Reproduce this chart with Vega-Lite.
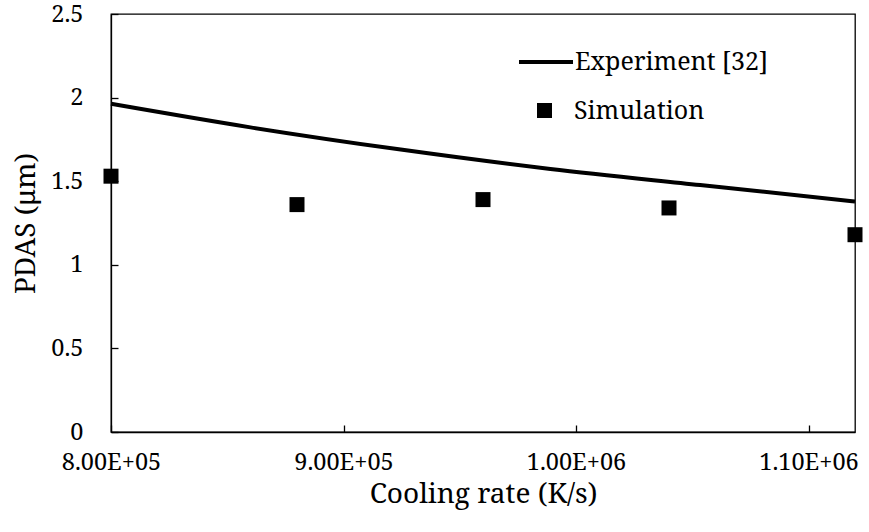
{
  "$schema": "https://vega.github.io/schema/vega-lite/v6.json",
  "width": 744,
  "height": 418,
  "autosize": {"type": "none"},
  "padding": {"left": 111, "top": 14, "right": 14, "bottom": 100},
  "background": "white",
  "config": {
    "font": "Noto Serif",
    "view": {"stroke": "black", "strokeWidth": 1.3},
    "axis": {
      "grid": false,
      "domainColor": "black",
      "domainWidth": 1.3,
      "tickColor": "black",
      "tickWidth": 1.3,
      "labelColor": "black",
      "titleColor": "black",
      "labelFont": "Noto Serif",
      "titleFont": "Noto Serif",
      "labelFontSize": 23.5,
      "titleFontSize": 28,
      "titleFontWeight": "normal"
    },
    "legend": {"labelFont": "Noto Serif", "labelFontSize": 25, "labelColor": "black", "labelLimit": 500}
  },
  "data": {
    "values": [
      {"series": "Experiment [32]", "rate": 800000, "pdas": 1.963},
      {"series": "Experiment [32]", "rate": 860000, "pdas": 1.822},
      {"series": "Experiment [32]", "rate": 924600, "pdas": 1.689},
      {"series": "Experiment [32]", "rate": 989000, "pdas": 1.573},
      {"series": "Experiment [32]", "rate": 1053400, "pdas": 1.477},
      {"series": "Experiment [32]", "rate": 1120000, "pdas": 1.379},
      {"series": "Simulation", "rate": 800000, "pdas": 1.53},
      {"series": "Simulation", "rate": 880000, "pdas": 1.36},
      {"series": "Simulation", "rate": 960000, "pdas": 1.39},
      {"series": "Simulation", "rate": 1040000, "pdas": 1.34},
      {"series": "Simulation", "rate": 1120000, "pdas": 1.18}
    ]
  },
  "encoding": {
    "x": {
      "field": "rate", "type": "quantitative",
      "scale": {"domain": [800000, 1120000], "nice": false, "zero": false},
      "axis": {
        "title": "Cooling rate (K/s)",
        "values": [800000, 900000, 1000000, 1100000],
        "labelExpr": "replace(format(datum.value, '.2e'), 'e+', 'E+0')",
        "tickSize": -7,
        "labelPadding": 25,
        "titlePadding": 7,
        "labelFlush": false,
        "labelOverlap": false
      }
    },
    "y": {
      "field": "pdas", "type": "quantitative",
      "scale": {"domain": [0, 2.5], "nice": false},
      "axis": {
        "title": "PDAS (μm)",
        "values": [0, 0.5, 1, 1.5, 2, 2.5],
        "format": "~g",
        "tickSize": -7,
        "labelPadding": 35,
        "titlePadding": 10,
        "labelFlush": false,
        "labelOverlap": false
      }
    }
  },
  "layer": [
    {
      "transform": [{"filter": "datum.series === 'Experiment [32]'"}],
      "mark": {"type": "line", "strokeWidth": 4, "interpolate": "monotone", "clip": false},
      "encoding": {
        "color": {
          "field": "series", "type": "nominal",
          "scale": {"domain": ["Experiment [32]"], "range": ["black"]},
          "legend": {
            "title": null,
            "orient": "none",
            "legendX": 406,
            "legendY": 19,
            "padding": 0,
            "symbolType": "stroke",
            "symbolSize": 2916,
            "symbolStrokeWidth": 4,
            "symbolStrokeColor": "black",
            "labelOffset": 0
          }
        }
      }
    },
    {
      "transform": [{"filter": "datum.series === 'Simulation'"}],
      "mark": {"type": "point", "filled": true, "size": 225, "color": "black", "opacity": 1, "clip": false},
      "encoding": {
        "shape": {
          "field": "series", "type": "nominal",
          "scale": {"domain": ["Simulation"], "range": ["square"]},
          "legend": {
            "title": null,
            "orient": "none",
            "legendX": 421,
            "legendY": 84,
            "padding": 0,
            "symbolSize": 225,
            "symbolFillColor": "black",
            "symbolStrokeWidth": 0,
            "symbolOpacity": 1,
            "labelOffset": 17
          }
        }
      }
    }
  ]
}
